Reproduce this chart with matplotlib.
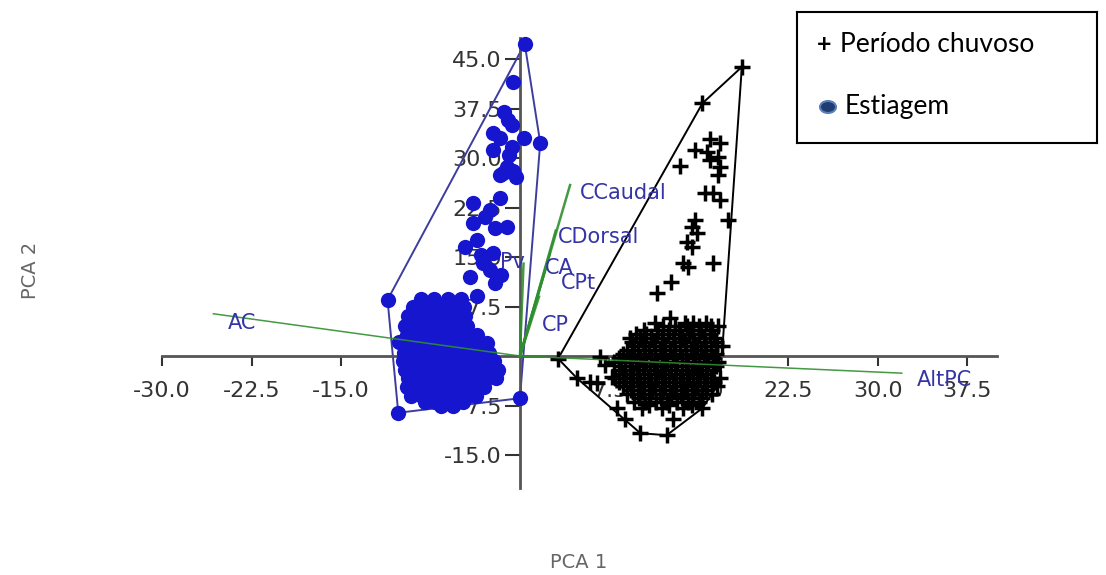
import matplotlib

matplotlib.use("Agg")
import matplotlib.pyplot as plt
from matplotlib.patches import Ellipse

# ── Data ───────────────────────────────────────────────────────────────────
# Estiagem scores: scattered upper points + dense cluster given as rows (y, [x...])
ESTIAGEM_UPPER = [
    (0.4, 47.3), (-0.6, 41.5), (-1.3, 37.0), (-1.0, 35.8), (-0.7, 35.0),
    (-2.3, 33.8), (-1.7, 33.0), (0.3, 33.0), (1.7, 32.3), (-0.7, 31.7),
    (-2.3, 31.2), (-1.1, 28.6), (-1.7, 27.4), (-0.3, 27.1), (-1.4, 27.7),
    (-0.6, 28.0), (-1.7, 23.9), (-3.9, 23.2), (-2.5, 22.1), (-3.9, 20.2),
    (-1.1, 19.5), (-2.1, 19.4), (-3.6, 17.6), (-4.6, 16.5), (-2.3, 15.6),
    (-3.1, 14.1), (-2.5, 13.0), (-4.2, 12.0), (-2.1, 11.1), (-3.6, 9.1),
    (-2.9, 21.0), (-3.3, 15.3), (-1.6, 12.3), (-0.9, 30.4),
    (-11.1, 8.5), (-10.2, -8.6), (0.0, -6.4), (-10.1, 2.1),
]
ESTIAGEM_ROWS = [
    (8.6, [-8.3, -7.2, -6.0, -4.9]),
    (7.4, [-9.0, -8.0, -6.9, -5.8, -4.7]),
    (6.0, [-9.4, -8.5, -7.5, -6.6, -5.5, -4.6]),
    (4.6, [-9.6, -8.7, -7.8, -6.9, -5.9, -4.9, -4.4]),
    (3.2, [-9.5, -8.6, -7.7, -6.8, -5.8, -4.8, -3.6]),
    (1.9, [-9.9, -9.0, -8.1, -7.1, -6.2, -5.2, -4.2, -3.4, -2.8]),
    (0.5, [-9.7, -8.8, -7.9, -6.9, -6.0, -5.0, -4.0, -3.1, -2.6]),
    (-0.8, [-9.8, -8.9, -8.0, -7.0, -6.1, -5.1, -4.1, -3.2, -2.2]),
    (-2.1, [-9.6, -8.7, -7.7, -6.8, -5.9, -4.9, -3.9, -2.9, -1.8]),
    (-3.4, [-9.4, -8.5, -7.6, -6.7, -5.7, -4.7, -3.7, -2.8, -2.0]),
    (-4.7, [-9.5, -8.6, -7.7, -6.8, -5.8, -4.8, -3.8, -3.0]),
    (-6.0, [-9.1, -8.2, -7.3, -6.4, -5.4, -4.4, -3.7]),
    (-7.0, [-8.0, -7.1, -6.2, -5.3, -4.8]),
    (-7.5, [-6.6, -5.6]),
]

# Período chuvoso scores
CHUVOSO_UPPER = [
    (18.6, 43.8), (15.3, 38.3), (15.9, 32.9), (16.8, 32.3), (14.7, 31.2),
    (15.7, 30.9), (16.6, 30.2), (13.4, 28.8), (15.9, 29.7), (16.8, 28.6),
    (16.6, 27.4), (15.5, 24.7), (16.2, 24.7), (16.8, 23.6), (17.4, 20.6),
    (14.7, 20.6), (14.4, 19.5), (14.8, 18.6), (14.0, 17.3), (14.4, 16.5),
    (13.7, 14.1), (14.1, 13.5), (16.2, 14.1), (12.7, 11.2), (11.5, 9.5),
    (3.2, -0.4), (4.8, -3.4), (5.9, -3.9), (6.5, -4.1), (6.7, -0.1),
    (7.1, -1.4), (7.7, -3.2), (10.1, -11.7), (12.3, -12.0), (15.3, -7.9),
]
CHUVOSO_ROWS = [
    (5.8, [12.6]),
    (5.0, [11.3, 13.8, 14.5, 15.6]),
    (4.6, [12.0, 13.0, 14.0, 15.0, 16.0, 16.6]),
    (3.9, [10.4, 11.6, 12.5, 13.4, 14.3, 15.2, 16.1]),
    (3.3, [9.7, 10.6, 11.5, 12.4, 13.3, 14.2, 15.0, 15.9]),
    (2.7, [9.2, 10.1, 11.0, 11.9, 12.8, 13.6, 14.5, 15.4, 16.3]),
    (2.1, [9.4, 10.3, 11.2, 12.0, 12.9, 13.8, 14.6, 15.5, 16.4]),
    (1.5, [9.6, 10.5, 11.3, 12.2, 13.0, 13.9, 14.8, 15.6, 16.5, 16.9]),
    (0.9, [9.0, 9.9, 10.8, 11.7, 12.6, 13.4, 14.3, 15.2, 16.0]),
    (0.3, [8.6, 9.5, 10.4, 11.3, 12.1, 13.0, 13.9, 14.7, 15.6, 16.4]),
    (-0.3, [8.3, 9.2, 10.1, 11.0, 11.9, 12.8, 13.6, 14.5, 15.4, 16.2]),
    (-0.9, [7.9, 8.8, 9.7, 10.6, 11.5, 12.3, 13.2, 14.1, 15.0, 15.8, 16.6]),
    (-1.5, [8.5, 9.4, 10.3, 11.2, 12.1, 13.0, 13.9, 14.7, 15.6, 16.4]),
    (-2.1, [8.3, 9.2, 10.0, 10.9, 11.8, 12.7, 13.6, 14.4, 15.3, 16.2]),
    (-2.7, [8.6, 9.5, 10.4, 11.3, 12.2, 13.1, 14.0, 14.8, 15.7]),
    (-3.3, [8.0, 8.9, 9.8, 10.7, 11.6, 12.5, 13.4, 14.2, 15.1, 16.0, 16.8]),
    (-3.9, [8.3, 9.2, 10.1, 11.0, 11.9, 12.8, 13.7, 14.5, 15.4, 16.3]),
    (-4.5, [8.6, 9.5, 10.4, 11.3, 12.2, 13.1, 14.0, 14.8, 15.7, 16.5]),
    (-5.1, [9.3, 10.2, 11.1, 12.0, 12.9, 13.8, 14.6, 15.6]),
    (-5.7, [9.0, 9.9, 10.8, 11.7, 12.6, 13.5, 14.4, 15.3, 16.1]),
    (-6.3, [10.0, 10.9, 11.8, 12.7, 13.6, 14.5, 15.3]),
    (-6.9, [9.6, 10.5, 11.4, 12.3, 13.2, 14.1, 15.0]),
    (-7.4, [10.8, 12.5, 14.4]),
    (-7.9, [8.1, 10.2, 11.9, 13.7]),
    (-9.5, [8.8, 12.8]),
]

# Variable loadings (arrow tips) and label anchors
LOAD_NAMES = ["AC", "AltPC", "CCaudal", "CDorsal", "CA", "CPt", "CP", "Pv"]
LOAD_X = [-25.7, 32.0, 4.2, 3.0, 2.5, 2.2, 1.6, 0.3]
LOAD_Y = [6.4, -2.6, 25.9, 19.0, 15.5, 13.5, 9.0, 14.0]
LABEL_X = [-24.5, 33.3, 5.0, 3.2, 2.1, 3.4, 1.8, -1.7]
LABEL_Y = [5.0, -3.6, 24.7, 18.0, 13.3, 11.1, 4.7, 14.3]

X_TICKS = [-30.0, -22.5, -15.0, -7.5, 7.5, 15.0, 22.5, 30.0, 37.5]
Y_TICKS = [-15.0, -7.5, 7.5, 15.0, 22.5, 30.0, 37.5, 45.0]

BLUE = "#1616cf"
HULL_BLUE = "#3d3d9e"
GREEN = "#2f8f2f"
LABEL_BLUE = "#3434a6"
AXIS_GREY = "#555555"


def expand(upper, rows):
    pts = list(upper)
    for y, xs in rows:
        pts += [(x, y) for x in xs]
    return pts


def convex_hull(pts):
    pts = sorted(set(pts))

    def cross(o, a, b):
        return (a[0] - o[0]) * (b[1] - o[1]) - (a[1] - o[1]) * (b[0] - o[0])

    lower, upper = [], []
    for p in pts:
        while len(lower) >= 2 and cross(lower[-2], lower[-1], p) <= 0:
            lower.pop()
        lower.append(p)
    for p in reversed(pts):
        while len(upper) >= 2 and cross(upper[-2], upper[-1], p) <= 0:
            upper.pop()
        upper.append(p)
    hull = lower[:-1] + upper[:-1]
    return hull + hull[:1]


estiagem = expand(ESTIAGEM_UPPER, ESTIAGEM_ROWS)
chuvoso = expand(CHUVOSO_UPPER, CHUVOSO_ROWS)

fig = plt.figure(figsize=(11.06, 5.75), dpi=100)
ax = fig.add_axes([0.12495, 0.12835, 0.7982, 0.8264])
ax.set_xlim(-32, 42)
ax.set_ylim(-22, 50)

# hulls
for pts, col in ((estiagem, HULL_BLUE), (chuvoso, "black")):
    hx, hy = zip(*convex_hull(pts))
    ax.plot(hx, hy, color=col, lw=1.4, zorder=2)

ex, ey = zip(*estiagem)
ax.plot(ex, ey, "o", color=BLUE, ms=11, mew=0, ls="none", zorder=3)
cx, cy = zip(*chuvoso)
ax.plot(cx, cy, "+", color="black", ms=12, mew=2.5, ls="none", zorder=3)

# loadings
for name, lx, ly, tx, ty in zip(LOAD_NAMES, LOAD_X, LOAD_Y, LABEL_X, LABEL_Y):
    lw = 1.1 if abs(lx) > 20 else 1.8
    ax.plot([0, lx], [0, ly], color=GREEN, lw=lw, alpha=0.9, zorder=4)
    ax.text(tx, ty, name, color=LABEL_BLUE, fontsize=15, ha="left",
            va="center", zorder=5)

# axes through the origin
for s in ("top", "right"):
    ax.spines[s].set_visible(False)
ax.spines["left"].set_position(("data", 0))
ax.spines["bottom"].set_position(("data", 0))
ax.spines["left"].set_bounds(-20, 48.2)
ax.spines["bottom"].set_bounds(-30, 40)
for s in ("left", "bottom"):
    ax.spines[s].set_color(AXIS_GREY)
    ax.spines[s].set_linewidth(2)
ax.set_axisbelow(True)
ax.set_xticks(X_TICKS)
ax.set_xticklabels([f"{v:.1f}" for v in X_TICKS])
ax.set_yticks(Y_TICKS)
ax.set_yticklabels([f"{v:.1f}" for v in Y_TICKS])
ax.tick_params(axis="x", direction="out", length=7, width=1.5, pad=11,
               labelsize=16, colors="#333333")
ax.tick_params(axis="y", direction="out", length=11, width=1.5, pad=2,
               labelsize=16, colors="#333333")
ax.patch.set_visible(False)

fig.text(0.0275, 0.53, "PCA 2", rotation=90, ha="center", va="center",
         fontsize=14, color="#666666")
fig.text(0.523, 0.021, "PCA 1", ha="center", va="center", fontsize=14,
         color="#666666")

# legend box
lax = fig.add_axes([797 / 1106, 1 - 143 / 575, 300 / 1106, 131 / 575])
lax.set_xlim(0, 300)
lax.set_ylim(131, 0)
lax.set_xticks([])
lax.set_yticks([])
for s in lax.spines.values():
    s.set_color("black")
    s.set_linewidth(1.5)
lax.text(20, 33, "+", fontsize=18, fontweight="bold", ha="left", va="center",
         family="Lato")
lax.text(43, 33, "Período chuvoso", fontsize=19, ha="left", va="center",
         family="Lato")
lax.add_patch(Ellipse((31, 95), 16, 12, facecolor="#1f3c73",
                      edgecolor="#5b7fb8", lw=1.5))
lax.text(48, 95, "Estiagem", fontsize=19, ha="left", va="center",
         family="Lato")

fig.savefig("out.png", dpi=100)
